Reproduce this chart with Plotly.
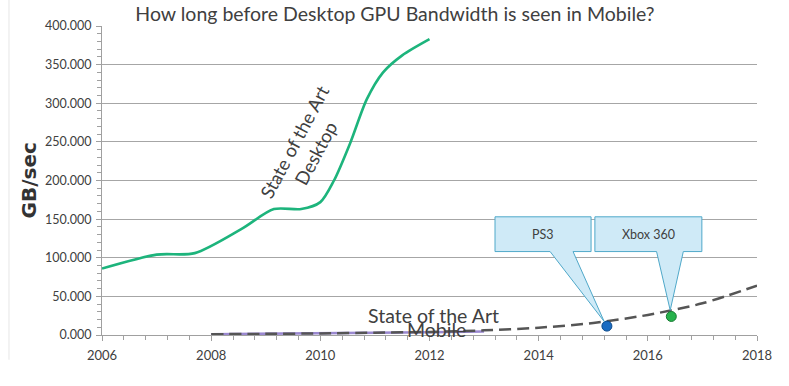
import plotly.graph_objects as go

# ---------------- data ----------------
desktop_years = [2006, 2007, 2007.7, 2008.55, 2009.15, 2009.65, 2010.0, 2010.25,
                 2010.55, 2010.85, 2011.15, 2011.5, 2012]
desktop_bw = [86, 104, 106, 137, 163, 163, 172, 200, 249, 305, 340, 362, 383]

mobile_trend_years = [2008, 2009, 2010, 2011, 2012, 2013, 2014, 2015, 2016, 2017, 2018]
mobile_trend_bw = [1, 1.5, 2, 3, 4, 6, 9.5, 15.5, 26, 41, 64]

mobile_actual_years = [2008, 2009, 2010, 2011, 2012, 2013]
mobile_actual_bw = [1, 1.5, 2, 2.5, 3.5, 4.5]

console_names = ["PS3", "Xbox 360"]
console_years = [2015.25, 2016.43]
console_bw = [11.5, 24]
console_colors = ["#1a6cc2", "#27b24c"]
console_edge = ["#0c4a8c", "#177a32"]

x_ticks = [2006, 2008, 2010, 2012, 2014, 2016, 2018]
y_ticks = [0, 50, 100, 150, 200, 250, 300, 350, 400]

FONT = "Lato, 'Open Sans', sans-serif"
TXT = "#404040"

fig = go.Figure()

fig.add_trace(go.Scatter(x=mobile_actual_years, y=mobile_actual_bw, mode="lines",
                         line=dict(color="#9a88d0", width=2.5), hoverinfo="skip"))
fig.add_trace(go.Scatter(x=mobile_trend_years, y=mobile_trend_bw, mode="lines",
                         line=dict(color="#555555", width=2.5, dash="12px,6px",
                                   shape="spline", smoothing=0.8), hoverinfo="skip"))
fig.add_trace(go.Scatter(x=desktop_years, y=desktop_bw, mode="lines",
                         line=dict(color="#1db47c", width=2.6, shape="spline", smoothing=0.8),
                         hoverinfo="skip"))
fig.add_trace(go.Scatter(x=console_years, y=console_bw, mode="markers",
                         marker=dict(size=10, color=console_colors,
                                     line=dict(color=console_edge, width=1)),
                         hoverinfo="skip"))

# callouts: box (x0, x1, y0, y1), wedge base (xa, xb), tip offset from point
callout_boxes = [
    (2013.20, 2014.96, 108, 153, 2014.21, 2014.63, 6.0, -0.05),
    (2015.03, 2016.99, 108, 153, 2016.16, 2016.65, 8.0, -0.02),
]
shapes = []
annotations = []
for name, cx, cy, box in zip(console_names, console_years, console_bw, callout_boxes):
    x0, x1, y0, y1, wa, wb, dy, dx = box
    tx, ty = cx + dx, cy + dy
    path = (f"M {x0},{y1} L {x1},{y1} L {x1},{y0} L {wb},{y0} L {tx},{ty} "
            f"L {wa},{y0} L {x0},{y0} Z")
    shapes.append(dict(type="path", path=path, xref="x", yref="y",
                       fillcolor="#cfeaf7", line=dict(color="#4fa8c9", width=1),
                       layer="above"))
    annotations.append(dict(x=(x0 + x1) / 2, y=(y0 + y1) / 2, xref="x", yref="y",
                            text=name, showarrow=False,
                            font=dict(family=FONT, size=12.5, color=TXT)))

# faint slide frame line on the left
shapes.append(dict(type="line", xref="paper", yref="paper", x0=-0.142, x1=-0.142,
                   y0=-0.08, y1=1.09, line=dict(color="#e6e6e6", width=1), layer="below"))

annotations += [
    dict(x=2009.73, y=243, xref="x", yref="y", text="State of the Art<br>Desktop",
         textangle=-62, showarrow=False, font=dict(family=FONT, size=18.5, color=TXT)),
    dict(x=2012.08, y=25, xref="x", yref="y", text="State of the Art",
         showarrow=False, font=dict(family=FONT, size=19.5, color=TXT)),
    dict(x=2012.13, y=-0.026, xref="x", yref="paper", text="Mobile",
         showarrow=False, font=dict(family=FONT, size=19.5, color=TXT)),
    dict(x=-0.112, y=0.499, xref="paper", yref="paper", text="<b>GB/sec</b>",
         xanchor="center", yanchor="middle", textangle=-90, showarrow=False,
         font=dict(family="'DejaVu Sans', sans-serif", size=20, color="#333333")),
]

fig.update_layout(
    width=789, height=386,
    margin=dict(l=102, r=32, t=26, b=51),
    paper_bgcolor="white", plot_bgcolor="white",
    showlegend=False,
    font=dict(family=FONT, color=TXT),
    title=dict(text="How long before Desktop GPU Bandwidth is seen in Mobile?",
               x=0.5006, xref="container", xanchor="center", y=0.9637, yanchor="middle",
               font=dict(family=FONT, size=19.5, color=TXT)),
    shapes=shapes, annotations=annotations,
)

fig.update_xaxes(range=[2006, 2018], tickvals=x_ticks, tickformat="d",
                 showgrid=False, zeroline=False, showline=True, linecolor="#a0a0a0",
                 ticks="outside", ticklen=5, tickcolor="#a0a0a0", ticklabelstandoff=3,
                 minor=dict(dtick=0.4, tick0=2006, ticks="outside", ticklen=4,
                            tickcolor="#a0a0a0", showgrid=False),
                 tickfont=dict(family=FONT, size=13, color=TXT))
fig.update_yaxes(range=[0, 400], tickvals=y_ticks, tickformat=".3f",
                 showgrid=True, gridcolor="#a6a6a6", gridwidth=1,
                 zeroline=False, showline=True, linecolor="#a0a0a0",
                 ticks="outside", ticklen=5, tickcolor="#a0a0a0", ticklabelstandoff=2,
                 minor=dict(dtick=10, tick0=0, ticks="outside", ticklen=4,
                            tickcolor="#a0a0a0", showgrid=False),
                 tickfont=dict(family=FONT, size=12.5, color=TXT))

fig.write_html("out.html", config={"displayModeBar": False},
               post_script="document.body.style.margin='0';document.body.style.padding='0';")
